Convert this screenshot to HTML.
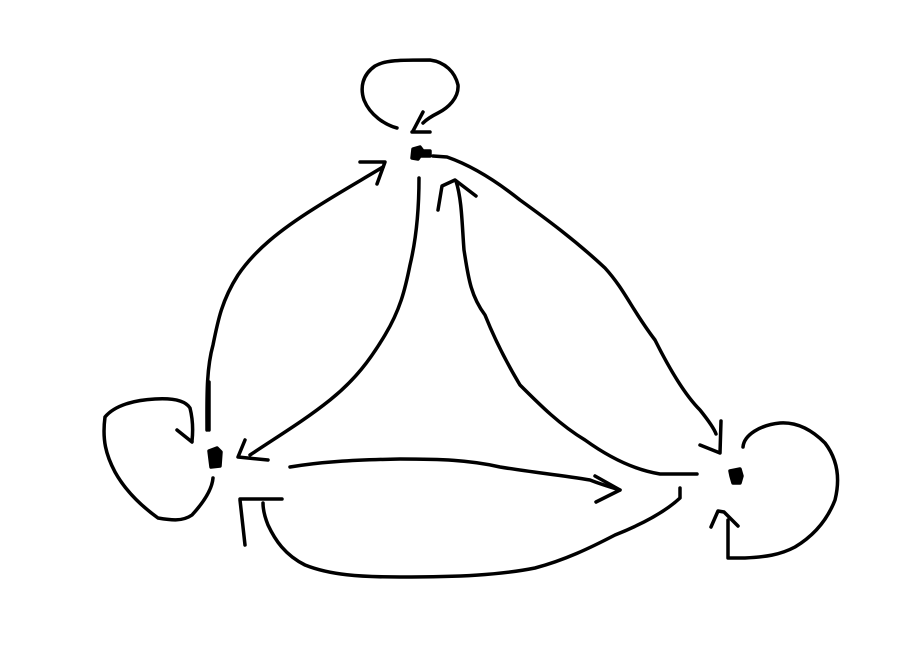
<!DOCTYPE html>
<html><head><style>html,body{margin:0;padding:0;background:#fff}svg{display:block}</style></head><body>
<svg width="897" height="664" viewBox="0 0 897 664" xmlns="http://www.w3.org/2000/svg">
<g fill="none" stroke="#000" stroke-width="3.5" stroke-linecap="round" stroke-linejoin="round">
<path d="M397,128 C385,125 370,115 364,100 C360,88 362,75 375,66 C385,60 400,60 430,60 C445,62 455,72 458,85 C459,98 448,108 438,113 C432,116 426,120 423,123"/>
<path d="M423,112 L413,131 M412,132 L430,132"/>
<path d="M413,149 L420,147 L423,151 L430,151 L430,156 L420,156 L418,159 L412,158 Z" fill="#000"/>
<path d="M207,430 C207,400 206,370 213,345 C218,320 222,300 238,275 C255,250 280,230 315,208 C340,192 365,178 383,167"/>
<path d="M360,162 L385,162 L377,184"/>
<path d="M419,178 C419,210 416,240 410,265 C405,290 400,310 385,335 C370,360 355,380 330,400 C305,420 280,435 250,455"/>
<path d="M245,440 L238,457 L268,460"/>
<path d="M433,156 L447,157 C470,165 495,180 520,200 C545,218 575,240 605,268 C625,290 632,310 655,340 C670,370 685,395 700,410 C708,420 714,428 716,434"/>
<path d="M721,421 L720,453 M700,445 L720,453"/>
<path d="M697,474 L660,474 C635,470 610,458 585,440 C560,425 540,405 520,385 C505,360 495,340 485,315 C470,295 468,275 464,250 C462,225 462,200 456,181"/>
<path d="M438,210 L442,186 L455,180 L476,196"/>
<path d="M730,471 L740,469 L742,476 L740,483 L733,483 L731,476 Z" fill="#000"/>
<path d="M743,447 C744,435 760,425 780,423 C795,422 810,428 825,443 C838,460 840,480 835,500 C828,518 815,535 795,547 C780,555 765,557 745,558 L728,558 L728,520"/>
<path d="M711,527 L718,511 L724,512 L738,526"/>
<path d="M209,451 L217,448 L221,452 L220,466 L211,467 Z" fill="#000"/>
<path d="M213,478 C212,490 203,503 192,515 C182,522 170,520 158,518 C140,505 125,490 115,472 C106,455 102,440 105,417 C115,405 135,400 155,399 C172,398 185,400 190,408 C193,420 193,432 192,441"/>
<path d="M177,430 L192,442"/>
<path d="M209,382 L209,430"/>
<path d="M290,467 C320,462 350,460 400,459 C440,459 470,460 500,467 C530,472 560,475 590,480 C600,484 610,487 620,490"/>
<path d="M595,476 L620,490 L596,502"/>
<path d="M680,488 L680,498 C665,512 640,525 615,535 C590,548 565,560 535,568 C500,575 460,577 400,577 C360,577 330,575 305,565 C285,555 275,540 268,525 C264,515 263,508 263,503"/>
<path d="M240,499 L282,499 M240,500 L245,545"/>
</g>
</svg>
</body></html>
